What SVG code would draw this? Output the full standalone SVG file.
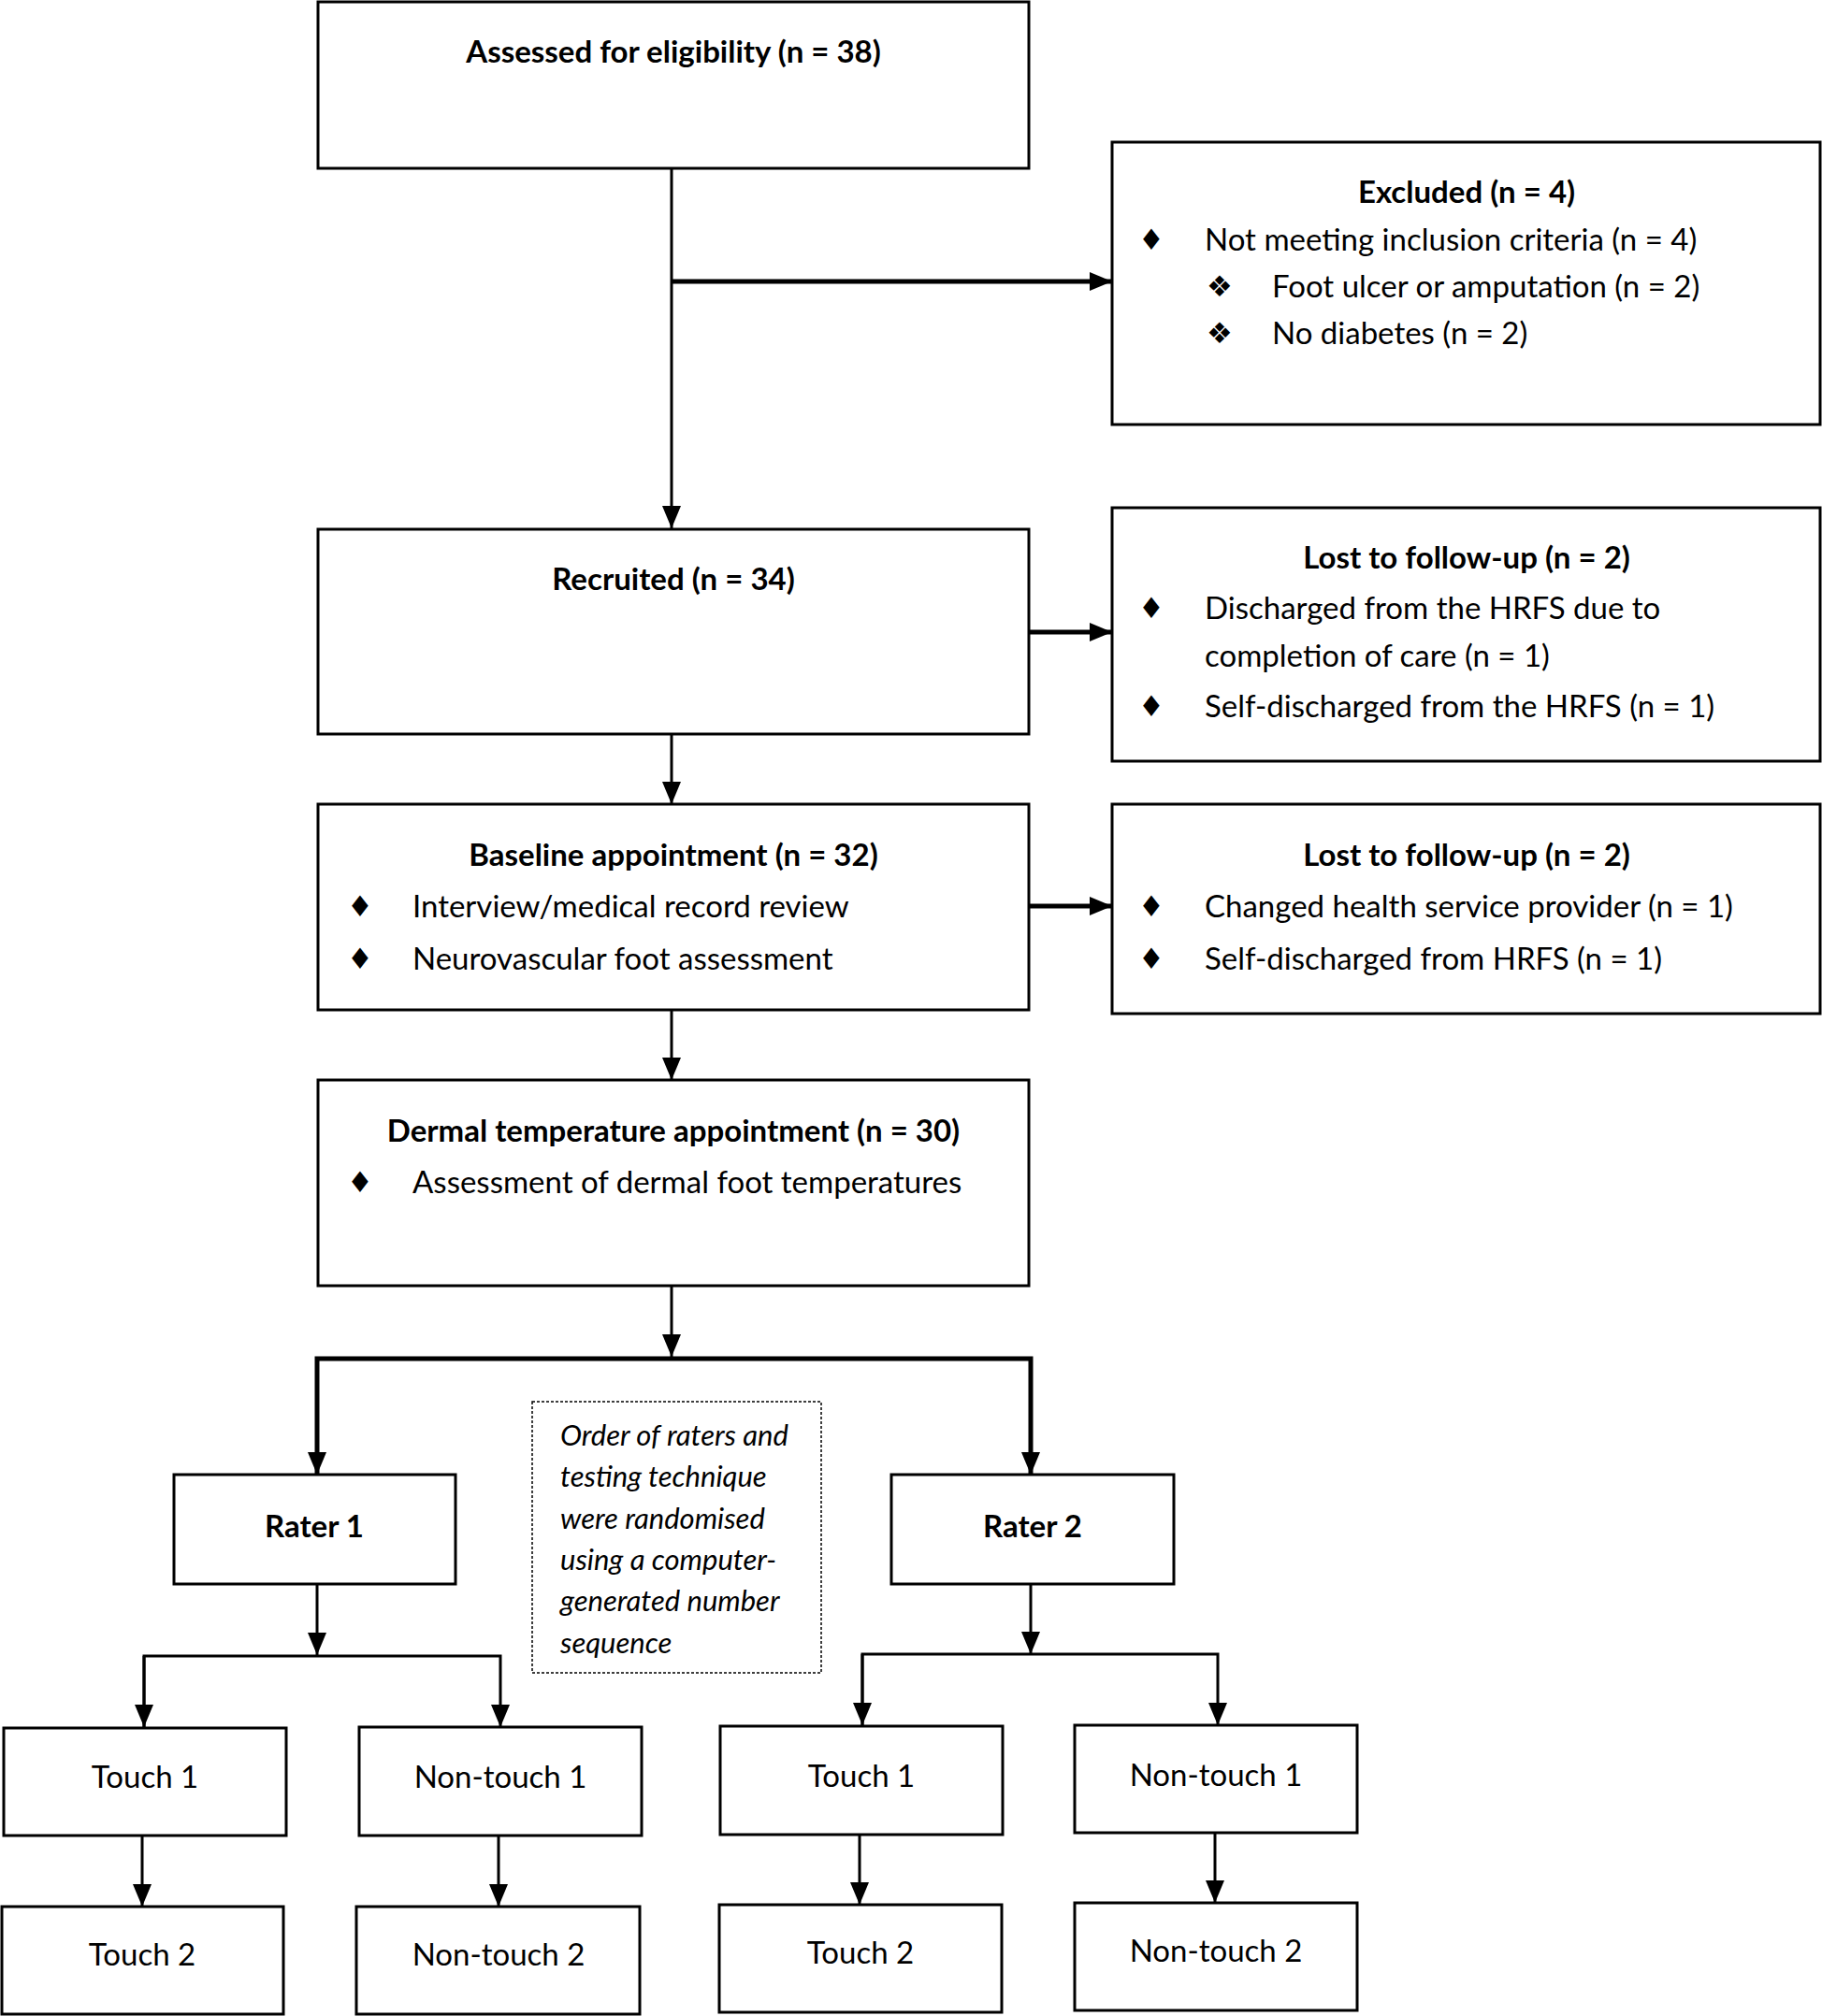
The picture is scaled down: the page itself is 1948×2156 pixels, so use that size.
<svg xmlns="http://www.w3.org/2000/svg" width="1948" height="2156" viewBox="0 0 1948 2156">
<style>
.box{fill:#fff;stroke:#000;stroke-width:3}
.dot{fill:#fff;stroke:#000;stroke-width:1.5;stroke-dasharray:3 2}
.t{font-family:Lato,"Open Sans","Liberation Sans",sans-serif;font-size:33px;fill:#000}
.b{font-weight:bold}
.c{text-anchor:middle}
.i{font-style:italic;font-size:31px}
.sym{font-family:"DejaVu Sans",sans-serif;font-size:31px;fill:#000;text-anchor:middle}
.ln{fill:none;stroke:#000;stroke-width:3}
.thick{stroke-width:5}
</style>
<defs>
<marker id="ah" viewBox="0 0 24 20" markerWidth="24" markerHeight="20" refX="24" refY="10" orient="auto" markerUnits="userSpaceOnUse">
<path d="M0,0 L24,10 L0,20 z" fill="#000"/>
</marker>
</defs>
<rect width="1948" height="2156" fill="#fff"/>

<g id="connectors">
<path class="ln" d="M718,180 V565" marker-end="url(#ah)"/>
<path class="ln thick" d="M718,301 H1189" marker-end="url(#ah)"/>
<path class="ln thick" d="M1100,676 H1189" marker-end="url(#ah)"/>
<path class="ln" d="M718,785 V860" marker-end="url(#ah)"/>
<path class="ln thick" d="M1100,969 H1189" marker-end="url(#ah)"/>
<path class="ln" d="M718,1080 V1155" marker-end="url(#ah)"/>
<path class="ln" d="M718,1375 V1451" marker-end="url(#ah)"/>
<path class="ln thick" d="M339,1577 V1453 H1102 V1577" marker-end="url(#ah)"/>
<path class="ln" d="M339,1453 V1577" marker-end="url(#ah)"/>
<path class="ln" d="M339,1694 V1770" marker-end="url(#ah)"/>
<path class="ln" d="M154,1847 V1771 H535 V1847" marker-end="url(#ah)"/>
<path class="ln" d="M154,1771 V1847" marker-end="url(#ah)"/>
<path class="ln" d="M1102,1694 V1769" marker-end="url(#ah)"/>
<path class="ln" d="M922,1845 V1769 H1302 V1845" marker-end="url(#ah)"/>
<path class="ln" d="M922,1769 V1845" marker-end="url(#ah)"/>
<path class="ln" d="M152,1963 V2039" marker-end="url(#ah)"/>
<path class="ln" d="M533,1963 V2039" marker-end="url(#ah)"/>
<path class="ln" d="M919,1962 V2037" marker-end="url(#ah)"/>
<path class="ln" d="M1299,1960 V2035" marker-end="url(#ah)"/>
</g>

<g id="assessed">
<rect class="box" x="340" y="2" width="760" height="178"/>
<text class="t b c" x="720" y="67">Assessed for eligibility (n = 38)</text>
</g>

<g id="excluded">
<rect class="box" x="1189" y="152" width="757" height="302"/>
<text class="t b c" x="1568" y="217">Excluded (n = 4)</text>
<text class="sym" x="1231" y="267">♦</text>
<text class="t" x="1288" y="268">Not meeting inclusion criteria (n = 4)</text>
<text class="sym" x="1304" y="317">❖</text>
<text class="t" x="1360" y="318">Foot ulcer or amputation (n = 2)</text>
<text class="sym" x="1304" y="367">❖</text>
<text class="t" x="1360" y="368">No diabetes (n = 2)</text>
</g>

<g id="recruited">
<rect class="box" x="340" y="566" width="760" height="219"/>
<text class="t b c" x="720" y="631">Recruited (n = 34)</text>
</g>

<g id="lost1">
<rect class="box" x="1189" y="543" width="757" height="271"/>
<text class="t b c" x="1568" y="608">Lost to follow-up (n = 2)</text>
<text class="sym" x="1231" y="661">♦</text>
<text class="t" x="1288" y="662">Discharged from the HRFS due to</text>
<text class="t" x="1288" y="713">completion of care (n = 1)</text>
<text class="sym" x="1231" y="766">♦</text>
<text class="t" x="1288" y="767">Self-discharged from the HRFS (n = 1)</text>
</g>

<g id="baseline">
<rect class="box" x="340" y="860" width="760" height="220"/>
<text class="t b c" x="720" y="926">Baseline appointment (n = 32)</text>
<text class="sym" x="385" y="980">♦</text>
<text class="t" x="441" y="981">Interview/medical record review</text>
<text class="sym" x="385" y="1036">♦</text>
<text class="t" x="441" y="1037">Neurovascular foot assessment</text>
</g>

<g id="lost2">
<rect class="box" x="1189" y="860" width="757" height="224"/>
<text class="t b c" x="1568" y="926">Lost to follow-up (n = 2)</text>
<text class="sym" x="1231" y="980">♦</text>
<text class="t" x="1288" y="981">Changed health service provider (n = 1)</text>
<text class="sym" x="1231" y="1036">♦</text>
<text class="t" x="1288" y="1037">Self-discharged from HRFS (n = 1)</text>
</g>

<g id="dermal">
<rect class="box" x="340" y="1155" width="760" height="220"/>
<text class="t b c" x="720" y="1221">Dermal temperature appointment (n = 30)</text>
<text class="sym" x="385" y="1275">♦</text>
<text class="t" x="441" y="1276">Assessment of dermal foot temperatures</text>
</g>

<g id="note">
<rect class="dot" x="569" y="1499" width="309" height="290"/>
<text class="t i" x="599" y="1546">Order of raters and</text>
<text class="t i" x="599" y="1590">testing technique</text>
<text class="t i" x="599" y="1635">were randomised</text>
<text class="t i" x="599" y="1679">using a computer-</text>
<text class="t i" x="599" y="1723">generated number</text>
<text class="t i" x="599" y="1768">sequence</text>
</g>

<g id="rater1">
<rect class="box" x="186" y="1577" width="301" height="117"/>
<text class="t b c" x="336" y="1644">Rater 1</text>
</g>
<g id="rater2">
<rect class="box" x="953" y="1577" width="302" height="117"/>
<text class="t b c" x="1104" y="1644">Rater 2</text>
</g>

<g id="touch1-r1">
<rect class="box" x="4" y="1848" width="302" height="115"/>
<text class="t c" x="155" y="1912">Touch 1</text>
</g>
<g id="nontouch1-r1">
<rect class="box" x="384" y="1847" width="302" height="116"/>
<text class="t c" x="535" y="1912">Non-touch 1</text>
</g>
<g id="touch1-r2">
<rect class="box" x="770" y="1846" width="302" height="116"/>
<text class="t c" x="921" y="1911">Touch 1</text>
</g>
<g id="nontouch1-r2">
<rect class="box" x="1149" y="1845" width="302" height="115"/>
<text class="t c" x="1300" y="1910">Non-touch 1</text>
</g>
<g id="touch2-r1">
<rect class="box" x="2" y="2039" width="301" height="115"/>
<text class="t c" x="152" y="2102">Touch 2</text>
</g>
<g id="nontouch2-r1">
<rect class="box" x="381" y="2039" width="303" height="115"/>
<text class="t c" x="533" y="2102">Non-touch 2</text>
</g>
<g id="touch2-r2">
<rect class="box" x="769" y="2037" width="302" height="115"/>
<text class="t c" x="920" y="2100">Touch 2</text>
</g>
<g id="nontouch2-r2">
<rect class="box" x="1149" y="2035" width="302" height="115"/>
<text class="t c" x="1300" y="2098">Non-touch 2</text>
</g>
</svg>
